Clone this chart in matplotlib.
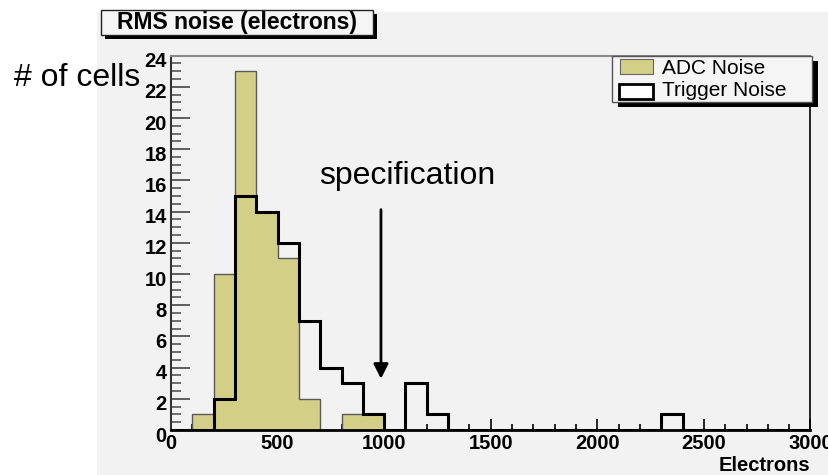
import matplotlib
matplotlib.use("Agg")
import matplotlib.pyplot as plt
import matplotlib.transforms as mtransforms
from matplotlib.patches import Rectangle
import numpy as np

# ---- data (bins of 100 electrons, 0..3000) ----
bin_edges = np.arange(0, 3001, 100)
adc_bins_start = [100, 200, 300, 400, 500, 600, 800, 900]
adc_counts = [1, 10, 23, 14, 11, 2, 1, 1]
trig_bins_start = [200, 300, 400, 500, 600, 700, 800, 900, 1100, 1200, 2300]
trig_counts = [2, 15, 14, 12, 7, 4, 3, 1, 3, 1, 1]
spec_value = 985
title_text = "RMS noise (electrons)"
legend_labels = ["ADC Noise", "Trigger Noise"]

def fill_hist(starts, counts):
    h = np.zeros(len(bin_edges) - 1)
    for s, c in zip(starts, counts):
        h[int(s // 100)] = c
    return h

adc = fill_hist(adc_bins_start, adc_counts)
trig = fill_hist(trig_bins_start, trig_counts)

W, H = 829, 475
fig = plt.figure(figsize=(W / 100, H / 100), dpi=100)
fig.patch.set_facecolor("white")
plt.rcParams["font.family"] = ["Liberation Sans", "DejaVu Sans"]

def fx(x):
    return x / W

def fy(y):
    return 1 - y / H

PAD = "#f2f2f2"
# grey pad
fig.patches.append(Rectangle((fx(97), 0), 1 - fx(97), fy(12), transform=fig.transFigure,
                             facecolor=PAD, edgecolor="none", zorder=-5))

ax = fig.add_axes([fx(171), fy(430), fx(810.5) - fx(171), fy(55.5) - fy(430)])
ax.set_zorder(1)
ax.set_facecolor(PAD)

ADC_COLOR = "#d3cf87"
ax.stairs(adc, bin_edges, fill=True, facecolor=ADC_COLOR, edgecolor="#5a5a5a",
          linewidth=1.0, zorder=2)
ax.stairs(trig, bin_edges, color="black", linewidth=2.2, zorder=3)

ax.set_xlim(0, 3000)
ax.set_ylim(0, 24)
ax.set_xticks(np.arange(0, 3001, 500))
ax.set_xticks(np.arange(0, 3001, 100), minor=True)
ax.set_yticks(np.arange(0, 25, 2))
ax.set_yticks(np.arange(0, 24.01, 0.5), minor=True)

ax.tick_params(axis="x", which="major", direction="in", length=8, width=1.2,
               color="black", labelsize=14.5, pad=3)
ax.tick_params(axis="x", which="minor", direction="in", length=4, width=1.2, color="black")
ax.tick_params(axis="y", which="major", direction="in", length=14, width=1.2,
               color="#444444", labelsize=14.5, pad=3)
ax.tick_params(axis="y", which="minor", direction="in", length=7, width=1.2, color="#555555")
for lab in ax.get_xticklabels() + ax.get_yticklabels():
    lab.set_fontweight("bold")
for lab in ax.get_yticklabels():
    lab.set_transform(lab.get_transform() +
                      mtransforms.ScaledTranslation(0, -3 / 72, fig.dpi_scale_trans))

ax.spines["left"].set_color("#333333")
ax.spines["left"].set_linewidth(1.5)
ax.spines["bottom"].set_color("black")
ax.spines["bottom"].set_linewidth(2)
ax.spines["top"].set_color("#888888")
ax.spines["top"].set_linewidth(1.5)
ax.spines["right"].set_color("black")
ax.spines["right"].set_linewidth(1.2)

ax.set_xlabel("Electrons", loc="right", fontsize=14.5, fontweight="bold", labelpad=2)

# specification arrow
ax.annotate("", xy=(spec_value, 3.1), xytext=(spec_value, 14.3),
            arrowprops=dict(arrowstyle="-|>", color="black", lw=2, mutation_scale=22),
            zorder=5)
fig.text(fx(407), fy(176), "specification", fontsize=23, ha="center", va="center", zorder=10)

# y-axis label text
fig.text(fx(14), fy(78), "# of cells", fontsize=23, ha="left", va="center", zorder=10)

# title box with shadow
fig.patches.append(Rectangle((fx(105), fy(39)), fx(373) - fx(101), fy(10) - fy(35),
                             transform=fig.transFigure, facecolor="black",
                             edgecolor="none", zorder=5))
fig.patches.append(Rectangle((fx(101), fy(35)), fx(373) - fx(101), fy(10) - fy(35),
                             transform=fig.transFigure, facecolor="#f5f5f5",
                             edgecolor="#222222", linewidth=1, zorder=6))
fig.text(fx(237), fy(23), title_text, fontsize=16.5, fontweight="bold",
         ha="center", va="center", zorder=7)

# legend box with shadow
fig.patches.append(Rectangle((fx(618), fy(107)), fx(812) - fx(612), fy(56) - fy(102),
                             transform=fig.transFigure, facecolor="black",
                             edgecolor="none", zorder=5))
fig.patches.append(Rectangle((fx(612), fy(102)), fx(812) - fx(612), fy(56) - fy(102),
                             transform=fig.transFigure, facecolor="#f5f5f5",
                             edgecolor="#555555", linewidth=1, zorder=6))
fig.patches.append(Rectangle((fx(620), fy(74)), fx(653) - fx(620), fy(59) - fy(74),
                             transform=fig.transFigure, facecolor=ADC_COLOR,
                             edgecolor="#666666", linewidth=0.8, zorder=7))
fig.patches.append(Rectangle((fx(619), fy(99)), fx(653) - fx(619), fy(84) - fy(99),
                             transform=fig.transFigure, facecolor="white",
                             edgecolor="black", linewidth=2, zorder=7))
fig.text(fx(662), fy(68), legend_labels[0], fontsize=15, ha="left", va="center", zorder=8)
fig.text(fx(662), fy(90), legend_labels[1], fontsize=15, ha="left", va="center", zorder=8)

fig.savefig("out.png", dpi=100)
